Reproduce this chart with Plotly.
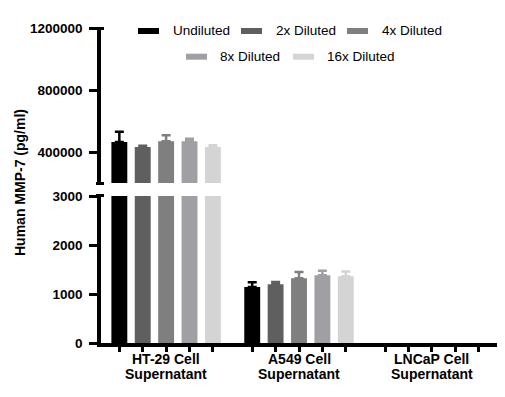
import plotly.graph_objects as go

# ---- data ----
cat_line1 = ["HT-29 Cell", "A549 Cell", "LNCaP Cell"]
cat_line2 = ["Supernatant", "Supernatant", "Supernatant"]
series = ["Undiluted", "2x Diluted", "4x Diluted", "8x Diluted", "16x Diluted"]
# LNCaP: not detected (no bar drawn)
undiluted = [465000, 1142, None]
dil_2x = [432000, 1198, None]
dil_4x = [469000, 1321, None]
dil_8x = [469000, 1383, None]
dil_16x = [432000, 1362, None]
sd_undiluted = [65000, 100, None]
sd_2x = [8000, 47, None]
sd_4x = [39000, 130, None]
sd_8x = [17000, 90, None]
sd_16x = [11000, 97, None]
upper_ticks = [400000, 800000, 1200000]
upper_labels = ["400000", "800000", "1200000"]
lower_ticks = [0, 1000, 2000, 3000]
lower_labels = ["0", "1000", "2000", "3000"]

values = [undiluted, dil_2x, dil_4x, dil_8x, dil_16x]
sds = [sd_undiluted, sd_2x, sd_4x, sd_8x, sd_16x]
colors = ["#000000", "#5f5f5f", "#7f7f7f", "#a09fa4", "#d4d4d4"]

BARGAP = 0.12
GROUPGAP = 0.32
n = len(series)
xs = list(range(len(cat_line1)))

fig = go.Figure()
for yax in ["y", "y2"]:
    for name, v, s, c in zip(series, values, sds, colors):
        fig.add_trace(go.Bar(
            x=xs, y=v, name=name, marker=dict(color=c, line=dict(width=0)),
            error_y=dict(type="data", array=s, arrayminus=[0] * len(s), symmetric=False,
                         color=c, thickness=2.5, width=4.5),
            xaxis="x", yaxis=yax, showlegend=False,
        ))

slot = (1 - BARGAP) / n
bar_centers = [i + (j - (n - 1) / 2) * slot for i in xs for j in range(n)]

OFF = 8  # page body margin
FW, FH = 505 - OFF, 397 - OFF
L, R, T, B = 101 - OFF, 8, 28 - OFF, 54
W, H = FW - L - R, FH - T - B

def px(xp):
    return (xp - OFF - L) / W

def py(yp):
    return (FH - B - (yp - OFF)) / H

lower_dom = [0, py(196)]
upper_dom = [py(183), 1]

tickfont = dict(family="Liberation Sans", size=13.5, color="black", weight="bold")

fig.update_layout(
    width=FW, height=FH,
    margin=dict(l=L, r=R, t=T, b=B, pad=0),
    paper_bgcolor="white", plot_bgcolor="white",
    barmode="group", bargap=BARGAP, bargroupgap=GROUPGAP,
    showlegend=False,
    xaxis=dict(range=[-0.49, 2.49], tickvals=bar_centers, ticktext=[""] * len(bar_centers),
               ticks="outside", ticklen=5, tickwidth=2.5, tickcolor="black",
               showline=True, linewidth=3.5, linecolor="black", showgrid=False,
               zeroline=False, anchor="y"),
    yaxis=dict(domain=lower_dom, range=[0, 3000], tickvals=lower_ticks, ticktext=lower_labels,
               ticks="outside", ticklen=8, tickwidth=3, tickcolor="black",
               showline=True, linewidth=3.5, linecolor="black", showgrid=False,
               zeroline=False, tickfont=tickfont, ticklabelstandoff=4, anchor="x"),
    yaxis2=dict(domain=upper_dom, range=[200000, 1200000], tickvals=upper_ticks,
                ticktext=upper_labels,
                ticks="outside", ticklen=8, tickwidth=3, tickcolor="black",
                showline=True, linewidth=3.5, linecolor="black", showgrid=False,
                zeroline=False, tickfont=tickfont, ticklabelstandoff=4, anchor="x"),
)

# axis break caps
fig.add_shape(type="line", xref="paper", yref="paper", x0=px(96), x1=px(104),
              y0=py(183.5), y1=py(183.5), line=dict(color="black", width=3))
fig.add_shape(type="line", xref="paper", yref="paper", x0=px(96), x1=px(104),
              y0=py(195.5), y1=py(195.5), line=dict(color="black", width=3))
fig.add_shape(type="line", xref="paper", yref="paper", x0=px(92), x1=px(104),
              y0=py(28.5), y1=py(28.5), line=dict(color="black", width=3))

# category labels
for i in xs:
    fig.add_annotation(x=i, xref="x", y=0, yref="paper", text=cat_line1[i], showarrow=False,
                       yanchor="middle", yshift=-16, font=dict(family="Liberation Sans", size=14,
                       color="black", weight="bold"))
    fig.add_annotation(x=i, xref="x", y=0, yref="paper", text=cat_line2[i], showarrow=False,
                       yanchor="middle", yshift=-31, font=dict(family="Liberation Sans", size=14,
                       color="black", weight="bold"))

# y title
fig.add_annotation(x=px(20), xref="paper", y=py(183), yref="paper", text="Human MMP-7 (pg/ml)",
                   textangle=-90, showarrow=False, xanchor="center", yanchor="middle",
                   font=dict(family="Liberation Sans", size=14, color="black", weight="bold"))

# legend (manual)
legend_pos = [(138, 171, 31), (241, 274, 31), (347, 380, 31), (186, 218, 56.7), (293, 325, 56.7)]
for (sx, tx, ly), name, c in zip(legend_pos, series, colors):
    fig.add_shape(type="rect", xref="paper", yref="paper", x0=px(sx), x1=px(sx + 21),
                  y0=py(ly + 3), y1=py(ly - 3), fillcolor=c, line=dict(width=0))
    fig.add_annotation(x=px(tx), xref="paper", y=py(ly), yref="paper", text=name, showarrow=False,
                       xanchor="left", yanchor="middle",
                       font=dict(family="Liberation Sans", size=13.5, color="black"))

fig.write_html("out.html")
